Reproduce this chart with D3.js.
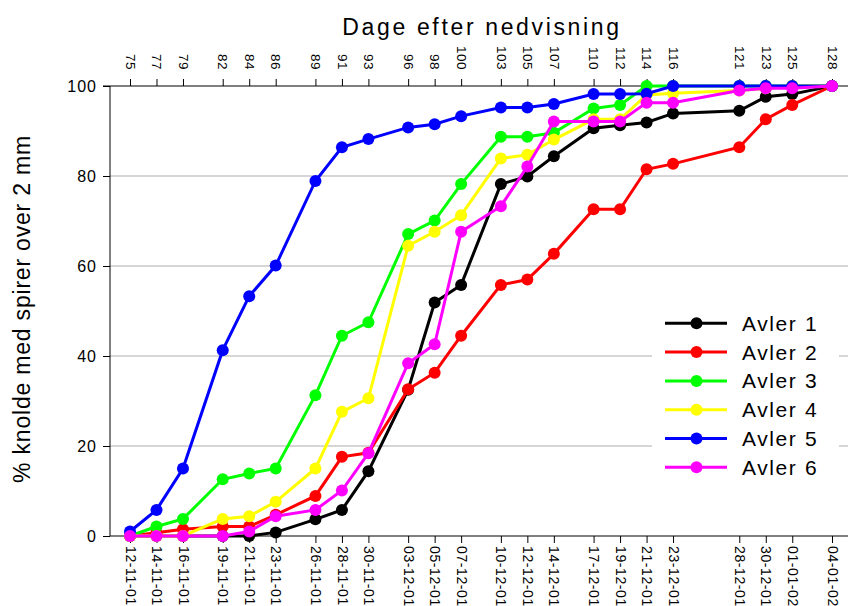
<!DOCTYPE html>
<html>
<head>
<meta charset="utf-8">
<script src="https://cdn.jsdelivr.net/npm/d3@7"></script>
<style>
  body { margin: 0; background: #fff; }
  text { font-family: "Liberation Sans", Arial, sans-serif; fill: #000; }
</style>
</head>
<body>
<div id="chart"></div>
<script>
// days after haulm killing (top axis) and matching dates (bottom axis)
var days = [75, 77, 79, 82, 84, 86, 89, 91, 93, 96, 98, 100, 103, 105, 107, 110, 112, 114, 116, 121, 123, 125, 128];
var dateLabels = ["12-11-01", "14-11-01", "16-11-01", "19-11-01", "21-11-01", "23-11-01", "26-11-01", "28-11-01",
  "30-11-01", "03-12-01", "05-12-01", "07-12-01", "10-12-01", "12-12-01", "14-12-01", "17-12-01", "19-12-01",
  "21-12-01", "23-12-01", "28-12-01", "30-12-01", "01-01-02", "04-01-02"];
var yTicks = [0, 20, 40, 60, 80, 100];

var seriesNames = ["Avler 1", "Avler 2", "Avler 3", "Avler 4", "Avler 5", "Avler 6"];
var seriesColors = ["#000000", "#ff0000", "#00ff00", "#ffff00", "#0000ff", "#ff00ff"];

var avler1 = [0, 0, 0, 0, 0, 0.8, 3.7, 5.8, 14.4, 32.5, 51.9, 55.8, 78.2, 79.9, 84.4, 90.6, 91.3, 91.9, 93.9, 94.5, 97.6, 98.2, 100];
var avler2 = [0, 0.7, 1.5, 2.1, 2.1, 4.7, 8.9, 17.6, 18.5, 32.6, 36.3, 44.5, 55.8, 57.0, 62.7, 72.6, 72.6, 81.5, 82.7, 86.4, 92.6, 95.8, 100];
var avler3 = [0, 2.1, 3.8, 12.6, 13.9, 15.0, 31.3, 44.5, 47.5, 67.1, 70.1, 78.2, 88.7, 88.7, 89.6, 95.0, 95.8, 100, 100, 100, 100, 100, 100];
var avler4 = [0, 0, 0, 3.8, 4.4, 7.6, 15.0, 27.6, 30.6, 64.5, 67.6, 71.3, 83.9, 84.7, 88.1, 92.6, 92.6, 98.0, 98.4, 99.0, 99.5, 100, 100];
var avler5 = [1.0, 5.8, 15.0, 41.3, 53.3, 60.1, 78.9, 86.4, 88.2, 90.8, 91.5, 93.3, 95.2, 95.2, 96.0, 98.2, 98.2, 98.3, 100, 100, 100, 100, 100];
var avler6 = [0, 0, 0, 0, 1.0, 4.4, 5.8, 10.1, 18.4, 38.4, 42.6, 67.6, 73.3, 82.1, 92.1, 92.1, 92.1, 96.3, 96.3, 99.0, 99.5, 99.5, 100];
var allSeries = [avler1, avler2, avler3, avler4, avler5, avler6];

var svgWidth = 848;
var svgHeight = 606;

var svg = d3.select("#chart").append("svg")
    .attr("width", svgWidth)
    .attr("height", svgHeight);

var xScale = d3.scaleLinear().domain([75, 128]).range([130, 832]);
var yScale = d3.scaleLinear().domain([0, 100]).range([536, 86]);

var plotLeft = 110, plotRight = 848;

// gridlines
svg.append("g").selectAll("line")
    .data(yTicks.filter(function (d) { return d > 0 && d < 100; }))
    .enter().append("line")
    .attr("x1", plotLeft).attr("x2", plotRight)
    .attr("y1", function (d) { return yScale(d); })
    .attr("y2", function (d) { return yScale(d); })
    .attr("stroke", "#c8c8c8")
    .attr("stroke-width", 1.5);

// y axis
var yAxis = d3.axisLeft(yScale).tickValues(yTicks).tickSize(7).tickPadding(6);
var yG = svg.append("g")
    .attr("transform", "translate(" + plotLeft + ",0)")
    .call(yAxis);
yG.select(".domain").remove();
yG.append("line").attr("x1", 0).attr("x2", 0).attr("y1", 86).attr("y2", 536).attr("stroke", "#000");
yG.selectAll("text").style("font-size", "16px").style("letter-spacing", "1px")
    .style("font-family", "'Liberation Sans', Arial, sans-serif").attr("fill", "#222");

// bottom axis (dates)
var xAxisBottom = d3.axisBottom(xScale).tickValues(days)
    .tickFormat(function (d, i) { return dateLabels[i]; })
    .tickSize(7);
var xbG = svg.append("g")
    .attr("transform", "translate(0,536)")
    .call(xAxisBottom);
xbG.select(".domain").remove();
xbG.append("line").attr("x1", plotLeft).attr("x2", plotRight).attr("y1", 0).attr("y2", 0).attr("stroke", "#000");
xbG.selectAll("text")
    .attr("transform", "rotate(90)")
    .attr("x", 10).attr("y", 0).attr("dy", "0.35em")
    .attr("text-anchor", "start")
    .style("font-size", "14px").style("letter-spacing", "0.6px")
    .style("font-family", "'Liberation Sans', Arial, sans-serif");

// top axis (days)
var xAxisTop = d3.axisTop(xScale).tickValues(days).tickSize(7);
var xtG = svg.append("g")
    .attr("transform", "translate(0,86)")
    .call(xAxisTop);
xtG.select(".domain").remove();
xtG.append("line").attr("x1", 103).attr("x2", plotRight).attr("y1", 0).attr("y2", 0).attr("stroke", "#000");
xtG.selectAll("text")
    .attr("transform", "rotate(90)")
    .attr("x", -16).attr("y", 0).attr("dy", "0.35em")
    .attr("text-anchor", "end")
    .style("font-size", "13.5px").style("letter-spacing", "0.5px")
    .style("font-family", "'Liberation Sans', Arial, sans-serif");

// titles
svg.append("text")
    .attr("x", 482).attr("y", 35)
    .attr("text-anchor", "middle")
    .style("font-size", "23px").style("letter-spacing", "2.65px")
    .text("Dage efter nedvisning");

svg.append("text")
    .attr("transform", "translate(30,309)rotate(-90)")
    .attr("text-anchor", "middle")
    .style("font-size", "23px").style("letter-spacing", "0.8px")
    .text("% knolde med spirer over 2 mm");

// series
var line = d3.line()
    .x(function (d, i) { return xScale(days[i]); })
    .y(function (d) { return yScale(d); });

allSeries.forEach(function (values, s) {
    var g = svg.append("g").attr("class", "series");
    g.append("path")
        .datum(values)
        .attr("d", line)
        .attr("fill", "none")
        .attr("stroke", seriesColors[s])
        .attr("stroke-width", 3);
    g.selectAll("circle")
        .data(values)
        .enter().append("circle")
        .attr("cx", function (d, i) { return xScale(days[i]); })
        .attr("cy", function (d) { return yScale(d); })
        .attr("r", 6)
        .attr("fill", seriesColors[s]);
});

// legend
var legend = svg.append("g");
legend.append("rect")
    .attr("x", 652).attr("y", 306).attr("width", 187).attr("height", 182)
    .attr("fill", "#fff");
seriesNames.forEach(function (name, i) {
    var ly = 323.3 + i * 28.8;
    legend.append("line")
        .attr("x1", 665).attr("x2", 727).attr("y1", ly).attr("y2", ly)
        .attr("stroke", seriesColors[i]).attr("stroke-width", 3);
    legend.append("circle")
        .attr("cx", 696.5).attr("cy", ly).attr("r", 6)
        .attr("fill", seriesColors[i]);
    legend.append("text")
        .attr("x", 742).attr("y", ly).attr("dy", "0.36em")
        .style("font-size", "21px").style("letter-spacing", "1.6px")
        .text(name);
});
</script>
</body>
</html>
